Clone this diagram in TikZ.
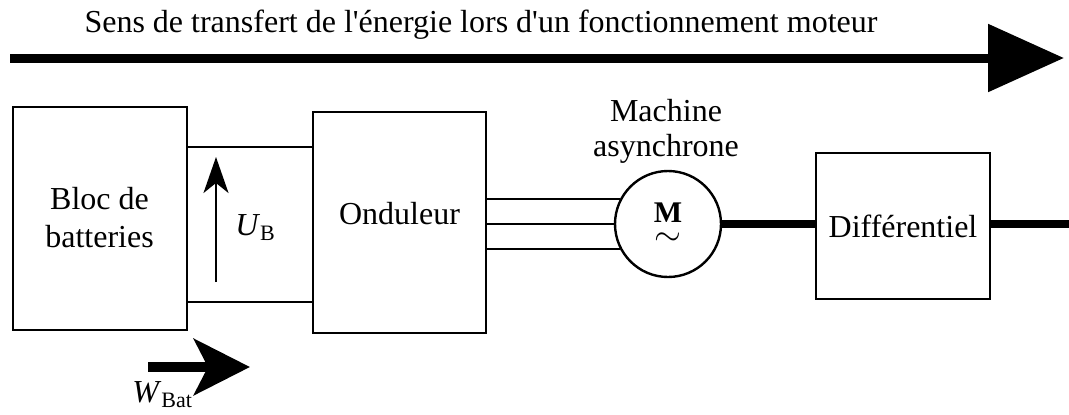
\documentclass[tikz,border=0pt]{standalone}
\usepackage{fontspec}
\setmainfont{Liberation Serif}[Ligatures=TeXOff]
\usetikzlibrary{arrows.meta,calc}
\newcommand{\lowidx}[1]{\raisebox{-2.5pt}{\fontsize{11}{11}\selectfont #1}}

\begin{document}
\begin{tikzpicture}[x=0.5pt,y=-0.5pt,
  font=\fontsize{16}{17.5}\selectfont,
  box/.style={draw,line width=1pt,inner sep=0pt,align=center},
  wire/.style={line width=1pt},
  shaft/.style={line width=4pt},
  bigarr/.style={-{Triangle[length=38pt,width=33pt]},line width=4.5pt},
  warr/.style={-{Stealth[length=28pt,width=28pt,inset=7pt]},line width=5pt},
  uarr/.style={-{Stealth[length=18pt,width=12.5pt,inset=5pt]},line width=1pt}
]
\useasboundingbox (0,0) rectangle (1069,414);

% sens de transfert
\node[anchor=base,inner sep=0pt] (sens) at (481,32) {Sens de transfert de l'énergie lors d'un fonctionnement moteur};
\coordinate (s0) at (10,58);
\coordinate (s1) at (1064,58);
\draw[bigarr] (s0) -- (s1);

% blocs
\node[box,minimum width=87pt,minimum height=111.5pt] (batt) at (99.5,218) {Bloc de\\[1.5pt]batteries};
\node[box,minimum width=86.5pt,minimum height=110.5pt] (ond) at (399.5,222.5) {Onduleur\\[-8pt]};
\node[circle,draw,line width=1.2pt,minimum size=53pt,inner sep=0pt,align=center] (mot) at (668,224)
  {\fontsize{15}{15}\selectfont\textbf{M}\\[-6pt]$\sim$};
\node[box,minimum width=87pt,minimum height=73pt] (diff) at (903,226) {Différentiel};
\node[anchor=south,align=center,inner sep=0pt] (machlbl) at (666,164) {Machine\\asynchrone};

% liaisons
\draw[wire] (batt.east |- 0,147) -- (ond.west |- 0,147);
\draw[wire] (batt.east |- 0,302) -- (ond.west |- 0,302);
\foreach \a in {153,180,207}
  \draw[wire] (ond.east |- mot.\a) -- (mot.\a);
\draw[shaft] (mot.east) -- (mot.east -| diff.west);
\coordinate (out) at (1069,224);
\draw[shaft] (diff.east |- out) -- (out);

% tension et energie
\coordinate (ub0) at (216,282);
\coordinate (ub1) at (216,157);
\draw[uarr] (ub0) -- (ub1);
\node[anchor=base west,inner sep=0pt] (ublbl) at (235,235) {\textit{U}\lowidx{B}};
\coordinate (w0) at (148,367);
\coordinate (w1) at (250,367);
\draw[warr] (w0) -- (w1);
\node[anchor=base west,inner sep=0pt] (wlbl) at (132,402) {\textit{W}\lowidx{Bat}};
\end{tikzpicture}
\end{document}
